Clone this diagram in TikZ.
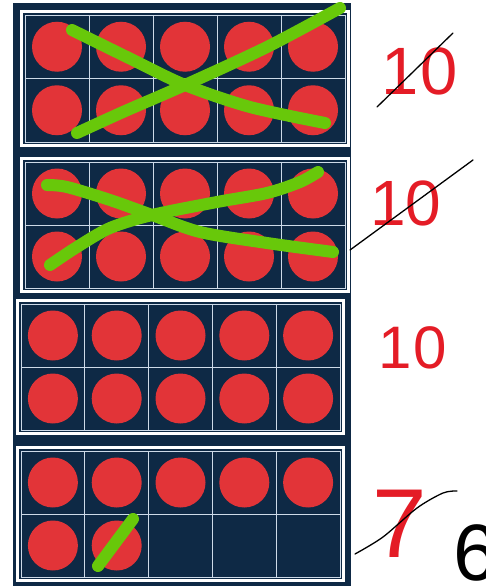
\documentclass[tikz,border=0pt]{standalone}
\usepackage{fontspec}
\setmainfont{Liberation Sans}
\definecolor{navy}{RGB}{14,41,69}
\definecolor{dotred}{RGB}{226,52,56}
\definecolor{markgreen}{RGB}{104,200,10}
\definecolor{gridline}{RGB}{205,218,232}
\definecolor{inkred}{RGB}{228,28,38}
\tikzset{
 frameborder/.style={draw=white, line width=2.6pt},
 gridstroke/.style={draw=gridline, line width=0.9pt},
 dot/.style={fill=dotred},
 cross/.style={draw=markgreen, line width=12pt, line cap=round, line join=round},
 strike/.style={draw=black, line width=1.3pt, line cap=round},
 ink/.style={text=inkred, inner sep=0pt, anchor=base},
}
\newcommand{\tenframe}[5]{%
 \pgfmathsetmacro\cw{(#3-#1)/5}%
 \pgfmathsetmacro\ch{(#4-#2)/2}%
 \draw[frameborder] (#1-3.5,#2-3.5) rectangle (#3+3.5,#4+3.5);
 \draw[gridstroke] (#1,#2) rectangle (#3,#4);
 \foreach \i in {1,...,4} \draw[gridstroke] (#1+\i*\cw,#2) -- (#1+\i*\cw,#4);
 \draw[gridstroke] (#1,#2+\ch) -- (#3,#2+\ch);
 \foreach \k in {1,...,#5} {
   \pgfmathsetmacro\col{mod(\k-1,5)}
   \pgfmathsetmacro\row{int((\k-1)/5)}
   \fill[dot] (#1+\col*\cw+0.5*\cw, #2+\row*\ch+0.5*\ch) circle[radius=25pt];
 }%
}
\begin{document}
\begin{tikzpicture}[x=1pt,y=-1pt]
\useasboundingbox (0,0) rectangle (485,586);
\fill[navy] (13,3) rectangle (351,586);
\tenframe{25}{15}{345}{142}{10}
\tenframe{25}{162}{345}{288}{10}
\tenframe{21}{304}{340}{430}{10}
\tenframe{21}{451}{340}{577}{7}
% green crosses
\draw[cross] plot[smooth] coordinates {(72,30) (133,60) (185,85) (250,107) (325,123)};
\draw[cross] plot[smooth] coordinates {(77,133) (123,112) (185,85) (267,47) (340,8)};
\draw[cross] plot[smooth] coordinates {(47,185) (67,187) (110,200) (152,215) (200,232) (267,243) (333,252)};
\draw[cross] plot[smooth] coordinates {(50,265) (77,247) (110,228) (152,215) (217,202) (267,193) (300,182) (318,172)};
\draw[cross] (98,566) -- (133,519);
% handwritten numbers
\node[ink, font=\fontsize{67}{67}\selectfont] (n1) at (420,94) {1\kern2pt0};
\node[ink, font=\fontsize{64}{64}\selectfont] (n2) at (406,225) {1\kern0pt0};
\node[ink, font=\fontsize{60}{60}\selectfont] (n3) at (413,368) {1\kern2pt0};
\node[ink, font=\fontsize{98}{98}\selectfont] (n4) at (400,557) {7};
\node[inner sep=0pt, anchor=base, font=\fontsize{80}{80}\selectfont] (n5) at (476,580) {6};
% strike-through lines
\draw[strike] (377,107) -- (453,33);
\draw[strike] (350,250) -- (473,160);
\draw[strike] plot[smooth] coordinates {(355,554) (383,537) (417,508) (443,493) (457,491)};
\end{tikzpicture}
\end{document}
